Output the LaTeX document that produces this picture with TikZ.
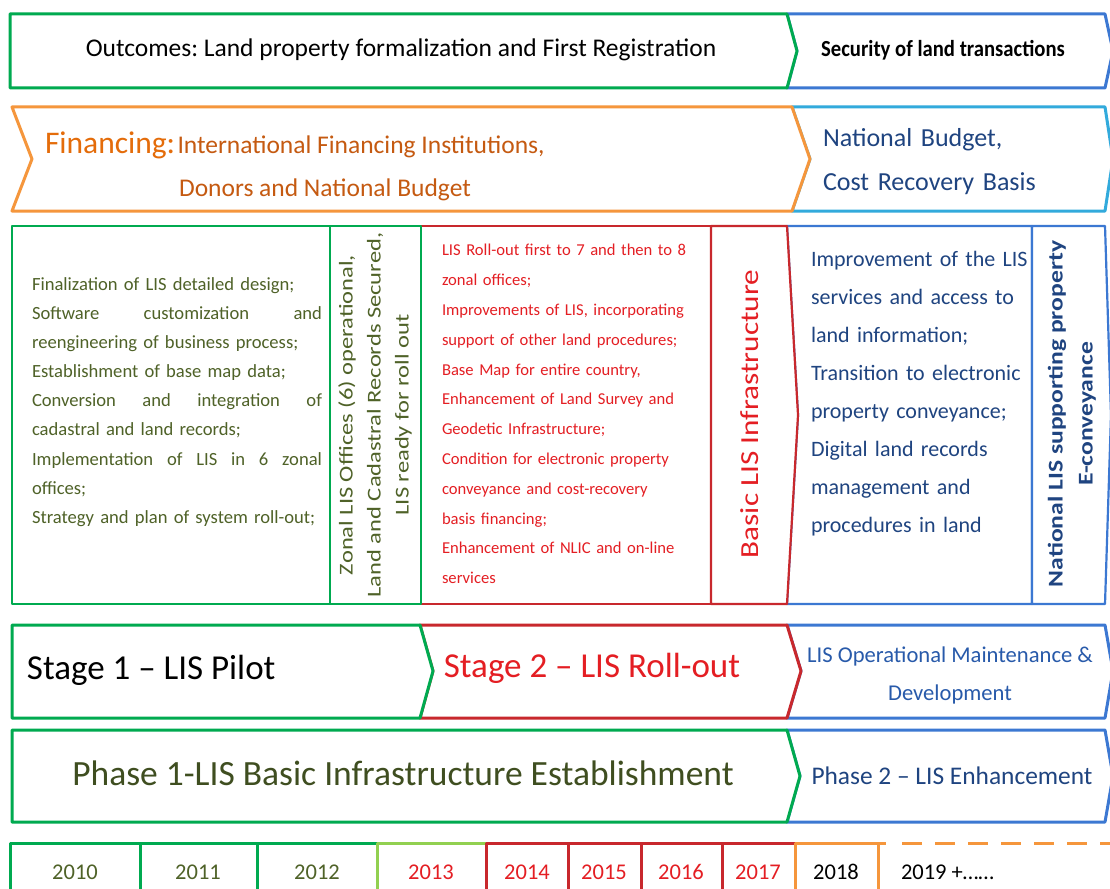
\documentclass[tikz,border=0pt]{standalone}
\usepackage{fontspec}
\setmainfont{Carlito}
\newfontfamily\condfont[FakeStretch=0.9]{Carlito}
\newfontfamily\longfont[FakeStretch=1.25]{Carlito}
\newfontfamily\longbfont[FakeStretch=1.22]{Carlito}
\newfontfamily\dfont[FakeStretch=1.2]{Carlito}
\definecolor{gborder}{RGB}{0,170,80}
\definecolor{oborder}{RGB}{245,150,60}
\definecolor{bborder}{RGB}{60,120,210}
\definecolor{cborder}{RGB}{50,170,220}
\definecolor{rborder}{RGB}{200,40,45}
\definecolor{lgborder}{RGB}{146,208,80}
\definecolor{olivetxt}{RGB}{79,98,40}
\definecolor{darkbluetxt}{RGB}{31,68,128}
\definecolor{midbluetxt}{RGB}{40,90,170}
\definecolor{redtxt}{RGB}{228,30,35}
\definecolor{orangetxt}{RGB}{228,108,10}
\definecolor{browntxt}{RGB}{197,90,17}
\newcommand{\fsz}[2]{\fontsize{#1}{#2}\selectfont}
\newcommand{\justline}[1]{\leavevmode\hbox to 290pt{#1}}
\begin{document}
\frenchspacing
\begin{tikzpicture}[x=1pt,y=-1pt,
  thick box/.style={line width=3pt, line join=round, fill=white},
  thin box/.style={line width=2.2pt, line join=round, fill=white},
  txt/.style={inner sep=0pt, outer sep=0pt},
  cell/.style={line width=3pt, line join=round}]
\useasboundingbox (0,0) rectangle (1110,888);
\clip (0,0) rectangle (1110,888);
\fill[white] (0,0) rectangle (1110,888);

% ---------- Row 1: Outcomes ----------
\draw[thick box, draw=bborder] (787,14) -- (1105,14) -- (1113,51) -- (1105,88) -- (787,88) -- (797,51) -- cycle;
\draw[thick box, draw=gborder] (10,14) -- (787,14) -- (797,51) -- (787,88) -- (10,88) -- cycle;
\node[txt, font=\fsz{25.5}{30}] (outcomes) at (401,50) {Outcomes: Land property formalization and First Registration};
\node[txt, font=\condfont\bfseries\fsz{23}{27}] (security) at (943,50) {Security of land transactions};

% ---------- Row 2: Financing ----------
\draw[thick box, draw=cborder] (792,107) -- (1105,107) -- (1113,159) -- (1105,211) -- (792,211) -- (810,159) -- cycle;
\draw[thick box, draw=oborder] (12,107) -- (792,107) -- (810,159) -- (792,211) -- (12,211) -- (32,159) -- cycle;
\node[txt, anchor=base west] (fin1) at (45,153) {{\color{orangetxt}\fsz{31.5}{36}Financing:} {\color{browntxt}\fsz{25.5}{30}International Financing Institutions,}};
\node[txt, text=browntxt, font=\fsz{25.5}{30}] (fin2) at (325,190) {Donors and National Budget};
\node[txt, anchor=west, text width=270pt, align=left, text=darkbluetxt, font=\fsz{26}{44}] (natbud) at (823,162) {National Budget,\\Cost Recovery Basis\par};

% ---------- Row 3: activities ----------
\draw[thin box, draw=bborder] (787,226) -- (1032,226) -- (1032,604) -- (787,604) -- (798,415) -- cycle;
\draw[thin box, draw=bborder] (1032,226) -- (1105,226) -- (1111,415) -- (1105,604) -- (1032,604) -- cycle;
\draw[thin box, draw=rborder] (421,226) -- (711,226) -- (711,604) -- (421,604) -- cycle;
\draw[thin box, draw=rborder] (711,226) -- (787,226) -- (798,415) -- (787,604) -- (711,604) -- cycle;
\draw[thin box, draw=gborder] (12,226) rectangle (330,604);
\draw[thin box, draw=gborder] (330,226) rectangle (421,604);

\node[txt, text width=310pt, align=left, anchor=west, text=olivetxt, font=\fsz{18.6}{29.1}] (boxA) at (32,402) {%
Finalization of LIS detailed design;\\
\justline{Software\hfill customization\hfill and}\\
reengineering of business process;\\
Establishment of base map data;\\
\justline{Conversion\hfill and\hfill integration\hfill of}\\
cadastral and land records;\\
\justline{Implementation\hfill of\hfill LIS\hfill in\hfill 6\hfill zonal}\\
offices;\\
Strategy and plan of system roll-out;\par};

\node[txt, rotate=90, align=center, text=olivetxt, font=\longfont\fsz{19.6}{28}] (boxB) at (375,415) {%
Zonal LIS Offices (6) operational,\\
Land and Cadastral Records Secured,\\
LIS ready for roll out};

\node[txt, text width=300pt, align=left, anchor=west, text=redtxt, font=\fsz{16.6}{29.8}] (boxC) at (442,414) {%
LIS Roll-out first to 7 and then to 8\\
zonal offices;\\
Improvements of LIS, incorporating\\
support of other land procedures;\\
Base Map for entire country,\\
Enhancement of Land Survey and\\
Geodetic Infrastructure;\\
Condition for electronic property\\
conveyance and cost-recovery\\
basis financing;\\
Enhancement of NLIC and on-line\\
services\par};

\node[txt, rotate=90, text=redtxt, font=\dfont\fsz{26}{30}] (boxD) at (750,414) {Basic LIS Infrastructure};

\node[txt, text width=300pt, align=left, anchor=west, text=darkbluetxt, font=\fsz{22}{38}] (boxE) at (811,394) {%
Improvement of the LIS\\
services and access to\\
land information;\\
Transition to electronic\\
property conveyance;\\
Digital land records\\
management and\\
procedures in land\par};

\node[txt, rotate=90, align=center, text=darkbluetxt, font=\longbfont\bfseries\fsz{21}{30}] (boxF) at (1072,414) {%
National LIS supporting property\\
E-conveyance};

% ---------- Row 4: Stages ----------
\draw[thick box, draw=bborder] (787,625) -- (1105,625) -- (1113,671) -- (1105,718) -- (787,718) -- (801,671) -- cycle;
\draw[thick box, draw=rborder] (420,625) -- (787,625) -- (801,671) -- (787,718) -- (420,718) -- (433,671) -- cycle;
\draw[thick box, draw=gborder] (12,625) -- (420,625) -- (433,671) -- (420,718) -- (12,718) -- cycle;
\node[txt, anchor=west, font=\fsz{35}{40}] (stage1) at (27,670) {Stage 1 – LIS Pilot};
\node[txt, text=redtxt, font=\fsz{35}{40}] (stage2) at (592,668) {Stage 2 – LIS Roll-out};
\node[txt, align=center, text=midbluetxt, font=\fsz{22.6}{38}] (maint) at (950,675) {LIS Operational Maintenance \&\\Development};

% ---------- Row 5: Phases ----------
\draw[thick box, draw=bborder] (787,730) -- (1105,730) -- (1113,776) -- (1105,822) -- (787,822) -- (800,776) -- cycle;
\draw[thick box, draw=gborder] (12,730) -- (787,730) -- (800,776) -- (787,822) -- (12,822) -- cycle;
\node[txt, text=olivetxt!80!black, font=\fsz{35.5}{40}] (phase1) at (403,773) {Phase 1-LIS Basic Infrastructure Establishment};
\node[txt, text=darkbluetxt, font=\fsz{25.4}{30}] (phase2) at (952,776) {Phase 2 – LIS Enhancement};

% ---------- Row 6: Years ----------
\draw[cell, draw=gborder] (10,843) rectangle (140,905);
\draw[cell, draw=gborder] (140,843) rectangle (257,905);
\draw[cell, draw=gborder] (257,843) rectangle (377,905);
\draw[cell, draw=lgborder] (377,843) rectangle (486,905);
\draw[cell, draw=rborder] (486,843) rectangle (568,905);
\draw[cell, draw=rborder] (568,843) rectangle (641,905);
\draw[cell, draw=rborder] (641,843) rectangle (722,905);
\draw[cell, draw=rborder] (722,843) rectangle (795,905);
\draw[cell, draw=oborder] (795,843) rectangle (878,905);
\draw[line width=3pt, draw=oborder] (878,843) -- (886,843);
\draw[line width=3pt, draw=oborder, dash pattern=on 20pt off 13pt] (902,843) -- (1110,843);
\tikzset{yr/.style={txt, font=\fsz{22.5}{26}}}
\node[yr, text=olivetxt] (y2010) at (75,872) {2010};
\node[yr, text=olivetxt] (y2011) at (198,872) {2011};
\node[yr, text=olivetxt] (y2012) at (317,872) {2012};
\node[yr, text=redtxt] (y2013) at (431,872) {2013};
\node[yr, text=redtxt] (y2014) at (527,872) {2014};
\node[yr, text=redtxt] (y2015) at (604,872) {2015};
\node[yr, text=redtxt] (y2016) at (681,872) {2016};
\node[yr, text=redtxt] (y2017) at (758,872) {2017};
\node[yr] (y2018) at (836,872) {2018};
\node[yr, anchor=west] (y2019) at (901,872) {2019 +……};
\end{tikzpicture}
\end{document}
